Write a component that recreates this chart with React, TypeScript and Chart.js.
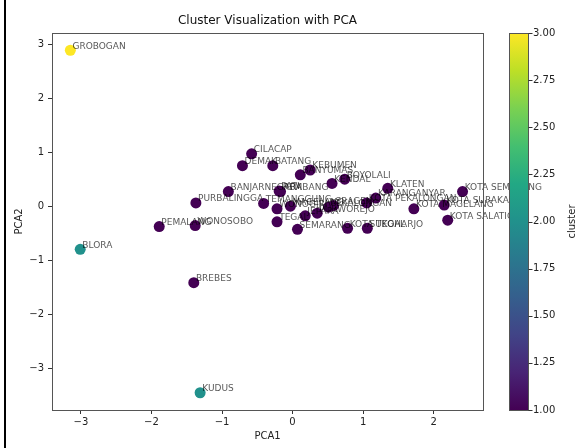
import React, { useEffect, useRef } from 'react';
import { Chart, registerables } from 'chart.js';

Chart.register(...registerables);

// ---- data ----
const names = [
  'GROBOGAN', 'BLORA', 'KUDUS', 'BREBES', 'PEMALANG', 'WONOSOBO', 'PURBALINGGA',
  'BANJARNEGARA', 'CILACAP', 'DEMAK', 'BATANG', 'BANYUMAS', 'KEBUMEN', 'KENDAL',
  'BOYOLALI', 'KLATEN', 'KARANGANYAR', 'KOTA PEKALONGAN', 'SRAGEN', 'KOTA MAGELANG',
  'KOTA SURAKARTA', 'KOTA SALATIGA', 'KOTA SEMARANG', 'KOTA TEGAL', 'SUKOHARJO',
  'SEMARANG', 'TEGAL', 'TEMANGGUNG', 'PATI', 'REMBANG', 'WONOGIRI', 'MAGELANG',
  'JEPARA', 'PURWOREJO', 'PEKALONGAN',
];
const pca1 = [
  -3.15, -3.01, -1.31, -1.40, -1.89, -1.38, -1.37,
  -0.91, -0.58, -0.71, -0.28, 0.11, 0.25, 0.56,
  0.74, 1.35, 1.18, 1.05, 0.58, 1.72,
  2.15, 2.20, 2.41, 0.78, 1.06,
  0.07, -0.22, -0.41, -0.19, -0.17, -0.22, -0.03,
  0.18, 0.35, 0.51,
];
const pca2 = [
  2.90, -0.79, -3.45, -1.41, -0.37, -0.35, 0.07,
  0.28, 0.98, 0.76, 0.76, 0.59, 0.68, 0.43,
  0.51, 0.34, 0.16, 0.07, 0.02, -0.04,
  0.03, -0.25, 0.28, -0.40, -0.40,
  -0.42, -0.28, 0.06, 0.29, 0.28, -0.04, 0.01,
  -0.17, -0.12, -0.01,
];
const clusters = [
  3, 2, 2, 1, 1, 1, 1,
  1, 1, 1, 1, 1, 1, 1,
  1, 1, 1, 1, 1, 1,
  1, 1, 1, 1, 1,
  1, 1, 1, 1, 1, 1, 1,
  1, 1, 1,
];
const clusterMin = 1;
const clusterMax = 3;
const clusterTickStep = 0.25;
const axisTickStep = 1;
const labelOffset = 0.03;

const titleText = 'Cluster Visualization with PCA';
const xLabel = 'PCA1';
const yLabel = 'PCA2';
const cbLabel = 'cluster';

const viridis = [
  '#440154', '#482475', '#414487', '#355f8d', '#2a788e', '#21918c',
  '#22a884', '#44bf70', '#7ad151', '#bddf26', '#fde725',
];

const FONT = '"DejaVu Sans", sans-serif';

function hexToRgb(h: string) {
  const n = parseInt(h.slice(1), 16);
  return [(n >> 16) & 255, (n >> 8) & 255, n & 255];
}
function viridisAt(t: number) {
  const p = Math.max(0, Math.min(1, t)) * (viridis.length - 1);
  const i = Math.floor(p);
  const f = p - i;
  const a = hexToRgb(viridis[i]);
  const b = hexToRgb(viridis[Math.min(i + 1, viridis.length - 1)]);
  const c = a.map((v, k) => Math.round(v + (b[k] - v) * f));
  return `rgb(${c[0]},${c[1]},${c[2]})`;
}
const fmtMinus = (v: number) => (v < 0 ? '\u2212' + Math.abs(v) : String(v));

const customPlugin = {
  id: 'customDecor',
  afterDatasetsDraw(chart: any) {
    const { ctx, scales } = chart;
    const x = scales.x;
    const y = scales.y;
    ctx.save();
    ctx.font = `9px ${FONT}`;
    ctx.fillStyle = 'rgba(0,0,0,0.68)';
    ctx.textAlign = 'left';
    ctx.textBaseline = 'alphabetic';
    names.forEach((n, i) => {
      ctx.fillText(
        n,
        x.getPixelForValue(pca1[i] + labelOffset),
        y.getPixelForValue(pca2[i] + labelOffset),
      );
    });
    ctx.restore();
  },
  afterDraw(chart: any) {
    const { ctx, chartArea, scales } = chart;
    const cb = scales.cb;
    ctx.save();
    // spines
    ctx.strokeStyle = '#555';
    ctx.lineWidth = 1;
    ctx.strokeRect(
      Math.round(chartArea.left) + 0.5,
      Math.round(chartArea.top) + 0.5,
      Math.round(chartArea.right - chartArea.left),
      Math.round(chartArea.bottom - chartArea.top),
    );
    // colorbar
    const barRight = chartArea.right + 45;
    const barLeft = chartArea.right + 26;
    const yTop = cb.getPixelForValue(clusterMax);
    const yBot = cb.getPixelForValue(clusterMin);
    const grad = ctx.createLinearGradient(0, yBot, 0, yTop);
    viridis.forEach((c, i) => grad.addColorStop(i / (viridis.length - 1), c));
    ctx.fillStyle = grad;
    ctx.fillRect(barLeft, yTop, barRight - barLeft, yBot - yTop);
    ctx.strokeStyle = '#555';
    ctx.strokeRect(Math.round(barLeft) + 0.5, Math.round(yTop) + 0.5, Math.round(barRight - barLeft), Math.round(yBot - yTop));
    ctx.strokeStyle = '#333';
    cb.ticks.forEach((t: any) => {
      const py = Math.round(cb.getPixelForValue(t.value)) + 0.5;
      ctx.beginPath();
      ctx.moveTo(Math.round(barRight) + 0.5, py);
      ctx.lineTo(Math.round(barRight) + 4.5, py);
      ctx.stroke();
    });
    // colorbar label
    ctx.fillStyle = '#222';
    ctx.font = `10px ${FONT}`;
    ctx.textAlign = 'center';
    ctx.textBaseline = 'middle';
    ctx.translate(572, (yTop + yBot) / 2);
    ctx.rotate(-Math.PI / 2);
    ctx.fillText(cbLabel, 0, 0);
    ctx.setTransform(1, 0, 0, 1, 0, 0);
    // title
    ctx.font = `12px ${FONT}`;
    ctx.fillStyle = '#111';
    ctx.textAlign = 'center';
    ctx.textBaseline = 'middle';
    ctx.fillText(titleText, (chartArea.left + chartArea.right) / 2, 21);
    // frame line on left edge
    ctx.fillStyle = '#000';
    ctx.fillRect(4, 0, 2, chart.height);
    ctx.restore();
  },
};

export default function App() {
  const ref = useRef<HTMLCanvasElement | null>(null);
  useEffect(() => {
    if (!ref.current) return;
    const data = pca1.map((v, i) => ({ x: v, y: pca2[i] }));
    const colors = clusters.map((c) => viridisAt((c - clusterMin) / (clusterMax - clusterMin)));
    const tickFont = { family: FONT, size: 10 };
    const chart = new Chart(ref.current, {
      type: 'scatter',
      data: {
        datasets: [
          {
            data,
            backgroundColor: colors,
            borderWidth: 0,
            pointRadius: 5.5,
            pointHoverRadius: 5.5,
          },
        ],
      },
      plugins: [customPlugin],
      options: {
        animation: false,
        responsive: false,
        devicePixelRatio: 1,
        events: [],
        layout: { padding: { top: 33, left: 0, right: 0, bottom: 0 } },
        plugins: { legend: { display: false }, tooltip: { enabled: false }, title: { display: false } },
        scales: {
          x: {
            type: 'linear',
            position: 'bottom',
            min: -3.41,
            max: 2.70,
            afterFit: (s: any) => { s.height = 38; },
            ticks: { stepSize: axisTickStep, includeBounds: false, font: tickFont, color: '#222', padding: 2, callback: (v: any) => fmtMinus(Number(v)), maxRotation: 0 },
            grid: { drawOnChartArea: false, drawTicks: true, tickLength: 4, color: '#333' },
            border: { display: false },
            title: { display: true, text: xLabel, font: tickFont, color: '#222', padding: { top: 0, bottom: 6 } },
          },
          y: {
            type: 'linear',
            position: 'left',
            min: -3.77,
            max: 3.22,
            afterFit: (s: any) => { s.width = 52; },
            ticks: { stepSize: axisTickStep, includeBounds: false, font: tickFont, color: '#222', padding: 4, callback: (v: any) => fmtMinus(Number(v)) },
            grid: { drawOnChartArea: false, drawTicks: true, tickLength: 4, color: '#333' },
            border: { display: false },
            title: { display: true, text: yLabel, font: tickFont, color: '#222', padding: { top: 13, bottom: 0 } },
          },
          cb: {
            type: 'linear',
            position: 'right',
            min: clusterMin,
            max: clusterMax,
            afterFit: (s: any) => { s.width = 96; },
            ticks: { stepSize: clusterTickStep, includeBounds: false, font: tickFont, color: '#222', padding: 0, callback: (v: any) => Number(v).toFixed(2) },
            grid: { display: true, drawOnChartArea: false, drawTicks: true, tickLength: 50, color: 'rgba(0,0,0,0)' },
            border: { display: false },
          },
        },
      },
    } as any);
    return () => chart.destroy();
  }, []);
  return (
    <div style={{ position: 'fixed', left: 0, top: 0, width: 579, height: 448, background: '#fff' }}>
      <canvas ref={ref} width={579} height={448} style={{ display: 'block' }} />
    </div>
  );
}
